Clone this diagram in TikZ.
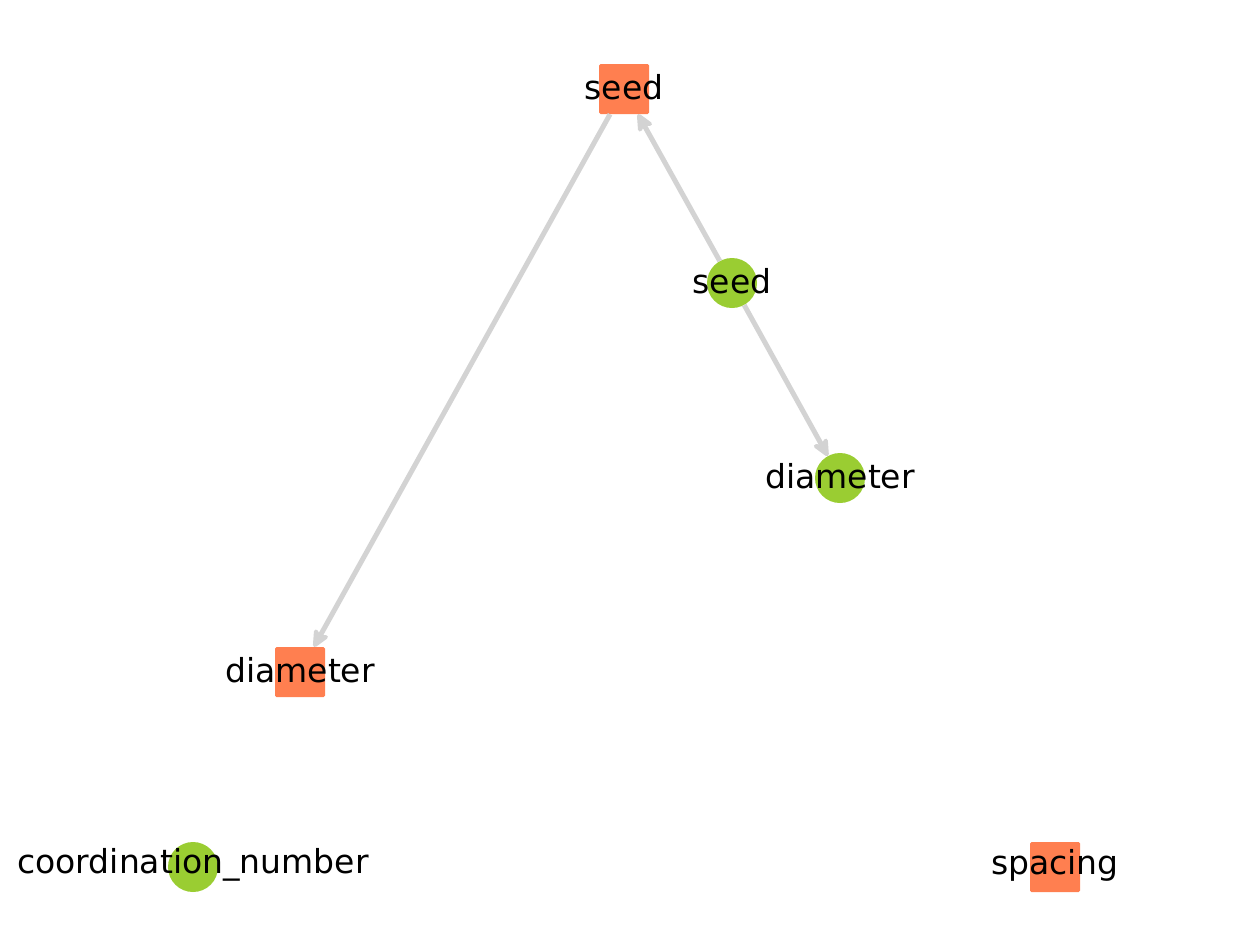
\documentclass[tikz,border=0pt]{standalone}
\usepackage{fontspec}
\setmainfont{DejaVu Sans}
\usetikzlibrary{arrows.meta}
\definecolor{sqcol}{HTML}{FF7F50}
\definecolor{cicol}{HTML}{9ACD32}
\definecolor{edgecol}{HTML}{D3D3D3}
\begin{document}
\begin{tikzpicture}[x=1pt,y=-1pt,
  sqnode/.style={rectangle,fill=sqcol,minimum size=50pt,inner sep=0pt,rounded corners=1.5pt},
  cinode/.style={circle,fill=cicol,minimum size=50pt,inner sep=0pt},
  lbl/.style={font=\fontsize{33}{33}\selectfont,inner sep=0pt,text=black},
  conn/.style={draw=edgecol,line width=5pt,-{Stealth[length=22pt,width=20pt,inset=6pt,round]}}]
\useasboundingbox (0,0) rectangle (1247,927);
\clip (0,0) rectangle (1247,927);
\node[sqnode] (s1) at (624,89) {};
\node[cinode] (s2) at (732,283) {};
\node[cinode] (d2) at (840,478) {};
\node[sqnode] (d1) at (300,672) {};
\node[cinode] (cn) at (193,867) {};
\node[sqnode] (sp) at (1055,867) {};
\draw[conn] (s1) -- (d1);
\draw[conn] (s2) -- (s1);
\draw[conn] (s2) -- (d2);
\node[lbl] (ts1) at (624,87) {seed};
\node[lbl] (ts2) at (732,281) {seed};
\node[lbl] (td2) at (840,476) {diameter};
\node[lbl] (td1) at (300,670) {diameter};
\node[lbl] (tcn) at (193,865) {coordination\_number};
\node[lbl] (tsp) at (1055,865) {spacing};
\end{tikzpicture}
\end{document}
